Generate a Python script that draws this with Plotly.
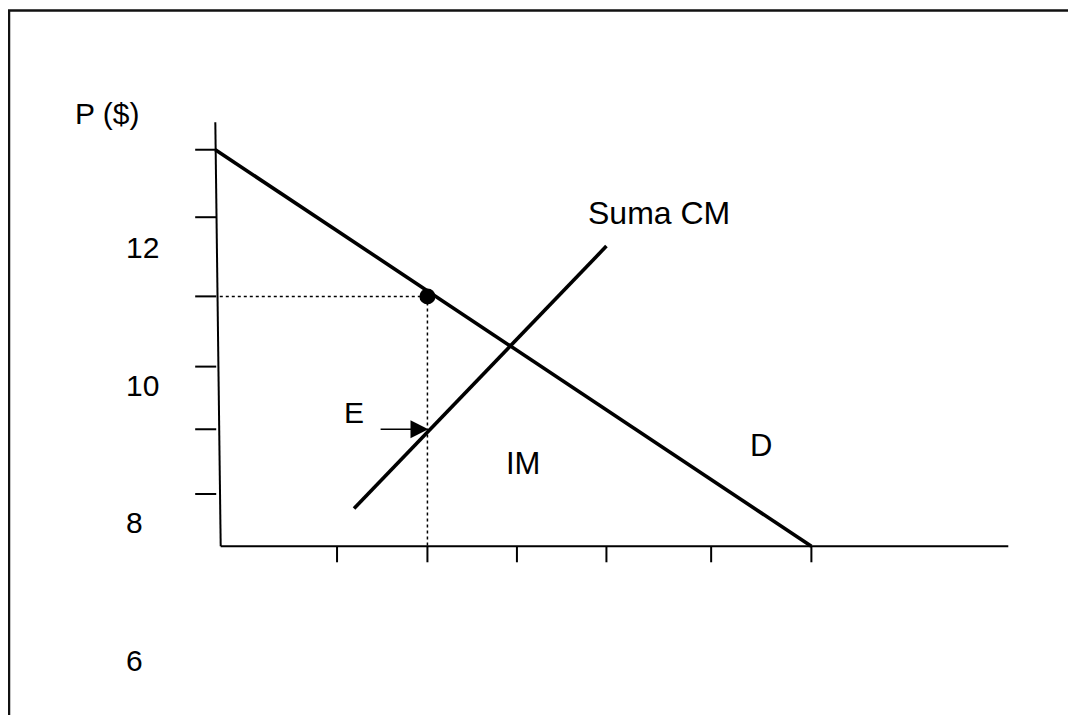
import plotly.graph_objects as go

# ---------------- data (Q = quantity units, P = price $) ----------------
demand_q = [-0.03, 6.63]
demand_p = [13.42, 7.66]

supply_q = [1.52, 4.34]          # "Suma CM"
supply_p = [8.21, 12.02]

yaxis_q = [-0.03, 0.03]          # hand-drawn, slightly slanted price axis
yaxis_p = [13.82, 7.66]
xaxis_q = [0.03, 8.83]
xaxis_p = [7.66, 7.66]

xtick_q = [1.33, 2.34, 3.34, 4.34, 5.51, 6.63]
ytick_p = [13.42, 12.44, 11.29, 10.27, 9.36, 8.42]

price_labels = [12, 10, 8, 6]

point_q = 2.34                   # chosen point on demand
point_p = 11.29
e_q = 2.35                       # point E on Suma CM
e_p = 9.36
e_arrow_tail_q = 1.80

# ---------------- layout scale (pixels per unit) ----------------
PAGE_OFF = 8                     # default page margin around the figure
W, H = 1076 - 2 * PAGE_OFF, 723 - 2 * PAGE_OFF
PX_Q = 89.5      # px per quantity unit
PX_P = 68.85     # px per price unit
Q0_PX = 218.0 - PAGE_OFF   # figure pixel x of Q = 0
P12_PX = 247.5 - PAGE_OFF  # figure pixel y of P = 12

x_range = [-Q0_PX / PX_Q, (W - Q0_PX) / PX_Q]
y_range = [12 - (H - P12_PX) / PX_P, 12 + P12_PX / PX_P]

tick_len_q = 0.235
tick_len_p = 0.232
FONT = "Liberation Sans, Arial, sans-serif"
FS = 30

fig = go.Figure()

def seg_trace(xs, ys, width, dash="solid"):
    fig.add_trace(go.Scatter(x=xs, y=ys, mode="lines",
                             line=dict(color="black", width=width, dash=dash),
                             hoverinfo="skip", showlegend=False, cliponaxis=False))

# axes
seg_trace(yaxis_q, yaxis_p, 2)
seg_trace(xaxis_q, xaxis_p, 2)

# y tick marks
tx, ty = [], []
for p in ytick_p:
    tx += [-0.02 - tick_len_q, -0.02, None]
    ty += [p, p, None]
seg_trace(tx, ty, 2)

# x tick marks
tx, ty = [], []
for q in xtick_q:
    tx += [q, q, None]
    ty += [xaxis_p[0], xaxis_p[0] - tick_len_p, None]
seg_trace(tx, ty, 2)

# dotted guides
seg_trace([0.02, point_q], [point_p, point_p], 1.5, "dot")
seg_trace([point_q, point_q], [point_p, xaxis_p[0]], 1.5, "dot")

# curves
seg_trace(demand_q, demand_p, 3.6)
seg_trace(supply_q, supply_p, 3.6)

# point
fig.add_trace(go.Scatter(x=[point_q], y=[point_p], mode="markers",
                         marker=dict(color="black", size=16),
                         hoverinfo="skip", showlegend=False))

# arrow to E
fig.add_annotation(x=e_q, y=e_p, ax=e_arrow_tail_q, ay=e_p,
                   xref="x", yref="y", axref="x", ayref="y",
                   text="", showarrow=True, arrowhead=2, arrowsize=2.1,
                   arrowwidth=1.7, arrowcolor="black")

def label(txt, q, p, anchor="center", size=FS):
    fig.add_annotation(x=q, y=p, xref="x", yref="y", text=txt, showarrow=False,
                       xanchor=anchor, yanchor="middle",
                       font=dict(family=FONT, size=size, color="black"))

for v in price_labels:
    label(str(v), -1.05, v, "left")

label("P ($)", -1.235, 13.95)
label("Suma CM", 4.93, 12.50, size=32)
label("E", 1.52, 9.60)
label("IM", 3.41, 8.87, size=31)
label("D", 6.07, 9.13, size=31)

# frame around the drawing
fig.add_shape(type="rect", xref="paper", yref="paper",
              x0=1 / W, y0=-0.1, x1=1.1, y1=1 - 2.5 / H,
              line=dict(color="#111111", width=2.5))

fig.update_layout(
    width=W, height=H, autosize=False,
    margin=dict(l=0, r=0, t=0, b=0, pad=0),
    paper_bgcolor="white", plot_bgcolor="white",
    xaxis=dict(range=x_range, visible=False, fixedrange=True),
    yaxis=dict(range=y_range, visible=False, fixedrange=True),
    showlegend=False,
)

fig.write_html("out.html")
